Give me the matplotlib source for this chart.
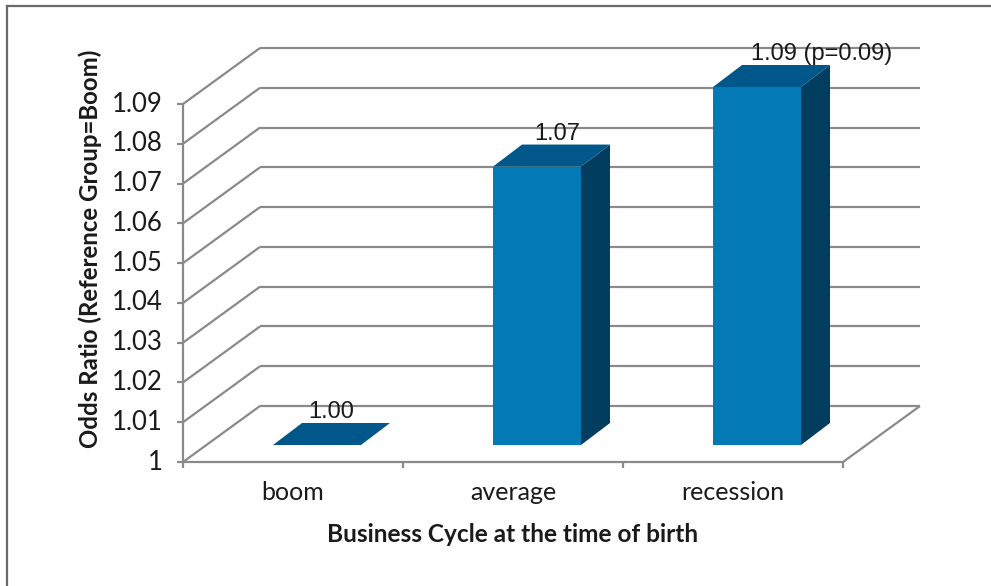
import matplotlib
matplotlib.use("Agg")
import matplotlib.pyplot as plt
import numpy as np
from matplotlib.patches import Polygon
from matplotlib.lines import Line2D

# ---- data -------------------------------------------------------------
categories = ["boom", "average", "recession"]
odds_ratios = [1.00, 1.07, 1.09]
bar_labels = ["1.00", "1.07", "1.09 (p=0.09)"]
y_ticks = [1.00, 1.01, 1.02, 1.03, 1.04, 1.05, 1.06, 1.07, 1.08, 1.09]
y_tick_labels = ["1", "1.01", "1.02", "1.03", "1.04", "1.05",
                 "1.06", "1.07", "1.08", "1.09"]
x_title = "Business Cycle at the time of birth"
y_title = "Odds Ratio (Reference Group=Boom)"

# ---- styling ----------------------------------------------------------
W, H, DPI = 991, 586, 100
GRID = "#8a8a8a"
FRONT = "#0379b6"
TOP = "#00588a"
SIDE = "#003d5e"
TEXT = "#1a1a1a"
WALL_DEPTH = np.array([77.0, 56.0])     # pixel offset of the back wall
BAR_FRONT = np.array([24.0, 17.0])      # pixel offset of bar front plane
BAR_DEPTH = np.array([29.0, 22.0])      # pixel depth of each bar
HALF_W = 0.2                            # bar half width (category units)
LABEL_NUDGE = [(0, 0), (6, 0), (50, 0)]  # extra label shift, pixels

fig = plt.figure(figsize=(W / DPI, H / DPI), dpi=DPI)
fig.patch.set_facecolor("white")

# front plane of the chart: categories on x, odds ratio on y
ax = fig.add_axes([183 / W, (H - 462) / H, 660 / W, 358 / H])
ax.set_xlim(0, len(categories))
ax.set_ylim(y_ticks[0], y_ticks[-1])
ax.axis("off")

# overlay axes working in display pixels for the pseudo-3D geometry
ov = fig.add_axes([0, 0, 1, 1], zorder=-1)
ov.set_xlim(0, W)
ov.set_ylim(0, H)
ov.axis("off")
ov.patch.set_alpha(0)

fig.canvas.draw()


def px(x, y):
    """Data point of the front plane -> figure pixel coordinates."""
    return np.array(ax.transData.transform((x, y)))


def line(p, q, **kw):
    ov.add_line(Line2D([p[0], q[0]], [p[1], q[1]], color=GRID, lw=1.6,
                       solid_capstyle="butt", **kw))


n = len(categories)
y0 = y_ticks[0]

# side wall diagonals and back wall gridlines
for v in y_ticks:
    a = px(0, v)
    b = a + WALL_DEPTH
    line(a, b, zorder=1)
    line(b, px(n, v) + WALL_DEPTH, zorder=1)

# floor front and right edges
line(px(0, y0), px(n, y0), zorder=1)
line(px(n, y0), px(n, y0) + WALL_DEPTH, zorder=1)

# value axis with tick marks and labels
line(px(0, y0), px(0, y_ticks[-1]), zorder=1)
for v, lab in zip(y_ticks, y_tick_labels):
    p = px(0, v)
    line(p, p - np.array([6, 0]), zorder=1)
    ov.text(p[0] - 20, p[1], lab, ha="right", va="center",
            fontsize=18.5, family="Lato", color=TEXT)

# category ticks and labels
for i in range(n + 1):
    p = px(i, y0)
    line(p, p - np.array([0, 6]), zorder=1)
for i, cat in enumerate(categories):
    p = px(i + 0.5, y0)
    ov.text(p[0], H - 493, cat, ha="center", va="center",
            fontsize=18, family="Lato", color=TEXT)

# bars as boxes: front, side and top faces
for i, (v, lab) in enumerate(zip(odds_ratios, bar_labels)):
    c = i + 0.5
    fl = px(c - HALF_W, y0) + BAR_FRONT
    fr = px(c + HALF_W, y0) + BAR_FRONT
    tl = px(c - HALF_W, v) + BAR_FRONT
    tr = px(c + HALF_W, v) + BAR_FRONT
    if v > y0:
        ov.add_patch(Polygon([fl, fr, tr, tl], closed=True, fc=FRONT,
                             ec="none", zorder=3))
        ov.add_patch(Polygon([fr, fr + BAR_DEPTH, tr + BAR_DEPTH, tr],
                             closed=True, fc=SIDE, ec="none", zorder=3))
    ov.add_patch(Polygon([tl, tr, tr + BAR_DEPTH, tl + BAR_DEPTH],
                         closed=True, fc=TOP, ec="none", zorder=3))
    mid = (tl + tr) / 2 + BAR_DEPTH * 0.5
    back_top = tl[1] + BAR_DEPTH[1]
    dx, dy = LABEL_NUDGE[i]
    ov.text(mid[0] + dx, back_top + 11 + dy, lab, ha="center", va="center",
            fontsize=17, family="Liberation Sans", color=TEXT, zorder=4)

# axis titles
ov.text(513, H - 535, x_title, ha="center", va="center", fontsize=17.6,
        family="Lato", fontweight="bold", color=TEXT)
ov.text(90, H - 249, y_title, ha="center", va="center", rotation=90,
        fontsize=17.3, family="Lato", fontweight="bold", color=TEXT)

# chart frame (top and left edges)
ov.add_line(Line2D([7, 7], [0, H - 6], color="#6a6a6a", lw=1.6))
ov.add_line(Line2D([7, W], [H - 6, H - 6], color="#6a6a6a", lw=1.6))

fig.savefig("out.png", dpi=DPI, facecolor="white")
